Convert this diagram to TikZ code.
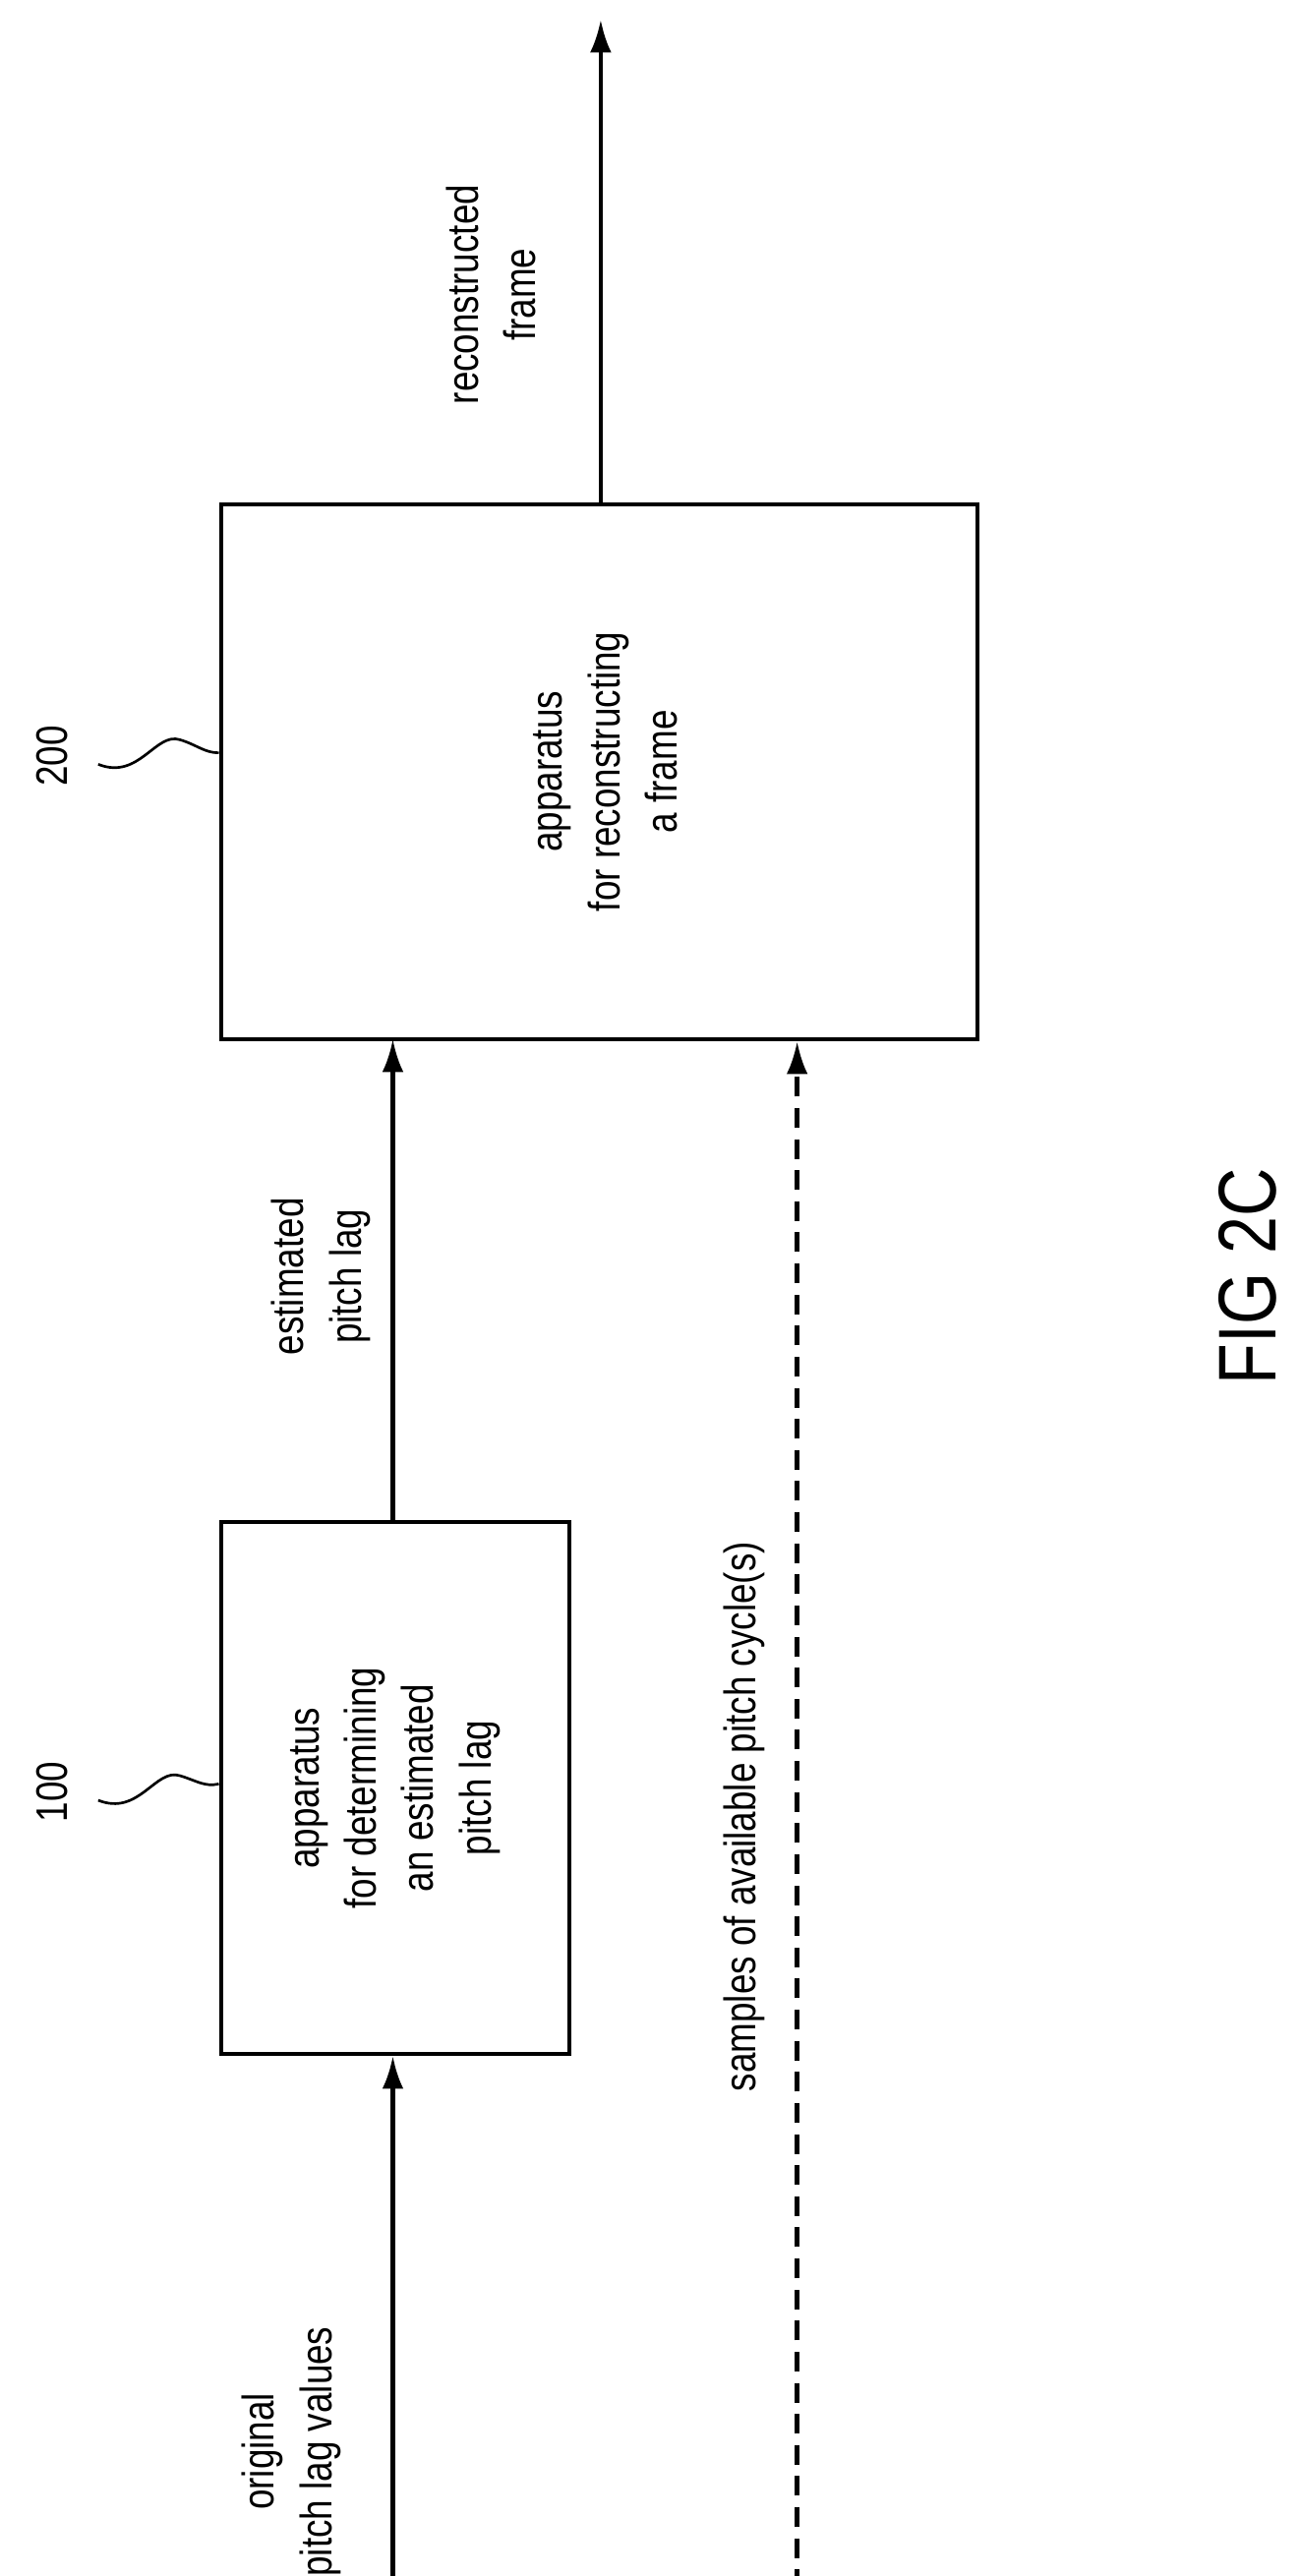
\documentclass[tikz,border=0pt]{standalone}
\usepackage{fontspec}
\setmainfont[FakeStretch=0.82]{Liberation Sans}
\usetikzlibrary{arrows.meta}
\begin{document}
\begin{tikzpicture}[x=1pt,y=-1pt,
  box/.style={draw,line width=2.6pt,inner sep=0},
  con/.style={line width=2.6pt,-{Latex[length=20pt,width=13pt]}},
  lbl/.style={rotate=90,align=center,font=\fontsize{27}{35}\selectfont},
  sq/.style={line width=1.6pt}]
\useasboundingbox (0,0) rectangle (794,1574);
\node[box,minimum width=213pt,minimum height=325pt] (b1) at (241.5,1092.5) {};
\node[box,minimum width=462pt,minimum height=327pt] (b2) at (366,471.5) {};
\node[lbl] (t1) at (241.5,1092.5) {apparatus\\for determining\\an estimated\\pitch lag};
\node[lbl] (t2) at (370,471.5) {apparatus\\for reconstructing\\a frame};
\coordinate (in1) at (240,1582);
\coordinate (in2) at (487,1582);
\coordinate (out) at (367,12);
\draw[con] (in1) -- (in1 |- b1.south);
\draw[con] (240,930) -- (240,635);
\draw[con,dash pattern=on 12pt off 7pt] (in2) -- (in2 |- b2.south);
\draw[con] (367,308) -- (out);
\node[lbl] (l1) at (178,1498) {original\\pitch lag values};
\node[lbl] (l2) at (196,780) {estimated\\pitch lag};
\node[lbl] (l3) at (455,1110) {samples of available pitch cycle(s)};
\node[lbl] (l4) at (300,180) {reconstructed\\frame};
\node[lbl] (n1) at (32,1095) {100};
\node[lbl] (n2) at (32,462) {200};
\draw[sq] (60,1100) .. controls (85,1110) and (95,1080) .. (110,1085) .. controls (120,1088) and (125,1092) .. (b1.west |- 0,1090);
\draw[sq] (60,467) .. controls (85,477) and (95,447) .. (110,452) .. controls (120,455) and (125,460) .. (b2.west |- 0,460);
\node[rotate=90,font=\fontsize{50}{60}\selectfont] (fig) at (762,780) {FIG 2C};
\end{tikzpicture}
\end{document}
